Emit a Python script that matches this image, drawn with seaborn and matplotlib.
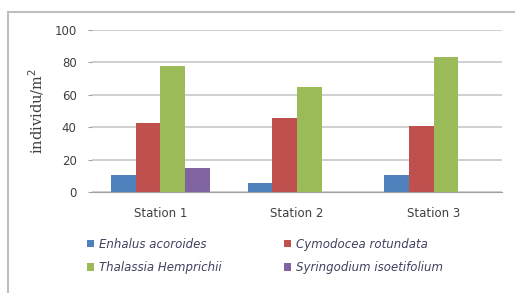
import pandas as pd
import matplotlib.pyplot as plt
import seaborn as sns
from matplotlib.patches import Rectangle, Patch

stations = ['Station 1', 'Station 2', 'Station 3']
species = ['Enhalus acoroides', 'Cymodocea rotundata',
           'Thalassia Hemprichii', 'Syringodium isoetifolium']
enhalus = [10.5, 5.7, 10.5]
cymodocea = [42.8, 45.5, 40.7]
thalassia = [77.5, 64.6, 83.1]
syringodium = [15.0, 0.0, 0.0]
colors = ['#4F81BD', '#C0504D', '#9BBB59', '#8064A2']

rows = []
for name, vals in zip(species, [enhalus, cymodocea, thalassia, syringodium]):
    for st, v in zip(stations, vals):
        rows.append({'station': st, 'species': name, 'value': v})
df = pd.DataFrame(rows)

sns.set_style('white')
plt.rcParams['font.family'] = ['DejaVu Sans']

fig = plt.figure(figsize=(5.15, 2.93), dpi=100)
ax = fig.add_axes([92 / 515, 1 - 192 / 293, 410 / 515, 162 / 293])

sns.barplot(data=df, x='station', y='value', hue='species', order=stations,
            hue_order=species, palette=colors, width=0.72, saturation=1,
            linewidth=0, ax=ax, legend=False)

ax.set_ylim(0, 100)
ax.set_yticks(range(0, 101, 20))
ax.yaxis.grid(True, color='#c8c8c8', linewidth=1.2)
ax.set_axisbelow(True)
for s in ['top', 'right', 'left']:
    ax.spines[s].set_visible(False)
ax.spines['bottom'].set_color('#a0a0a0')
ax.tick_params(axis='y', length=3, color='#a0a0a0', labelsize=8.5,
               labelcolor='#404040', pad=8, left=True)
ax.tick_params(axis='x', length=0, labelsize=8.5, labelcolor='#404040', pad=11)
ax.set_xlabel('')
ax.set_ylabel('individu/m$^2$', family='serif', fontsize=10.5, color='#404040',
              labelpad=6)

# matplotlib fills legend column-wise, reorder so rows read like the original
order = [0, 2, 1, 3]
handles = [Patch(facecolor=colors[i], edgecolor='none') for i in order]
labels = [species[i] for i in order]
leg = fig.legend(handles, labels, ncol=2, loc='upper left',
                 bbox_to_anchor=(81 / 515, 1 - 232 / 293), frameon=False,
                 handlelength=0.6, handleheight=0.6, handletextpad=0.4,
                 columnspacing=5.3, labelspacing=0.85, borderpad=0,
                 prop={'style': 'italic', 'size': 8.5})
for t in leg.get_texts():
    t.set_color('#404060')

fig.patches.append(Rectangle((8 / 515, -0.1), 1.2, 1 - 12 / 293 + 0.1,
                             transform=fig.transFigure, fill=False,
                             edgecolor='#bfbfbf', linewidth=1.5))

fig.savefig('out.png', dpi=100)
